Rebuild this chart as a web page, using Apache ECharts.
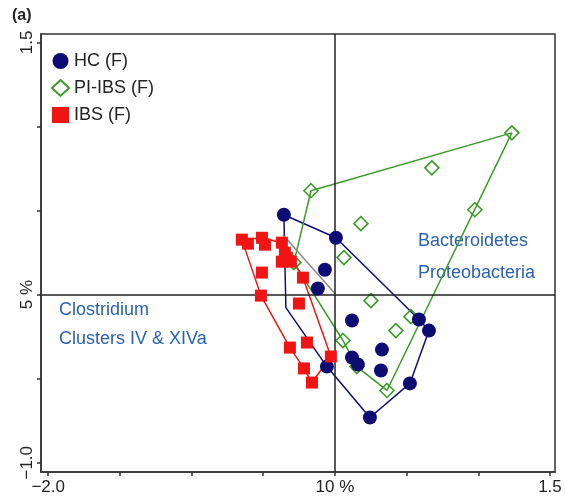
<!DOCTYPE html>
<html>
<head>
<meta charset="utf-8">
<script src="https://cdn.jsdelivr.net/npm/echarts@6/dist/echarts.min.js"></script>
<style>
  html, body { margin: 0; padding: 0; background: #fff; }
  #chart { width: 565px; height: 501px; }
</style>
</head>
<body>
<div id="chart"></div>
<script>
// points, [x, y]
const hcPoints = [
    [-0.356, 0.475], [0.007, 0.338], [-0.070, 0.148], [-0.119, 0.036],
    [0.119, -0.154], [0.586, -0.148], [0.656, -0.214], [0.328, -0.327],
    [0.119, -0.374], [0.160, -0.416], [0.321, -0.451], [0.523, -0.528],
    [0.244, -0.731], [-0.056, -0.428]
];
const piPoints = [
    [1.234, 0.962], [0.676, 0.754], [-0.167, 0.618], [0.976, 0.505],
    [0.181, 0.422], [0.063, 0.220], [0.251, -0.036], [0.530, -0.131],
    [0.425, -0.214], [0.056, -0.273], [0.153, -0.428], [0.363, -0.570],
    [-0.286, 0.190]
];
const ibsPoints = [
    [-0.649, 0.327], [-0.607, 0.303], [-0.509, 0.338], [-0.488, 0.297],
    [-0.370, 0.309], [-0.349, 0.249], [-0.335, 0.220], [-0.370, 0.196],
    [-0.307, 0.196], [-0.509, 0.131], [-0.223, 0.101], [-0.516, -0.006],
    [-0.251, -0.053], [-0.195, -0.285], [-0.314, -0.315], [-0.028, -0.368],
    [-0.216, -0.439], [-0.160, -0.523]
];

// hull outlines
const hcHull = [
    [-0.356, 0.475], [0.007, 0.338], [0.586, -0.148], [0.656, -0.214],
    [0.523, -0.528], [0.244, -0.731], [-0.056, -0.428], [-0.342, -0.077]
];
const piHull = [
    [1.234, 0.962], [0.363, -0.570], [0.153, -0.428], [0.056, -0.273],
    [-0.286, 0.190], [-0.167, 0.618]
];
const ibsHull = [
    [-0.649, 0.327], [-0.509, 0.338], [-0.370, 0.309], [-0.223, 0.101],
    [-0.028, -0.368], [-0.160, -0.523], [-0.216, -0.439], [-0.314, -0.315],
    [-0.516, -0.006]
];
const grayLine = [[-0.363, 0.356], [0.0, 0.006]];

const xTicks = [-2.0, -1.5, -1.0, -0.5, 0, 0.5, 1.0, 1.5];
const xLabels = { "-2": "\u22122.0", "0": "10 %", "1.5": "1.5" };
const yTicks = [-1.0, -0.5, 0, 0.5, 1.0, 1.5];
const yLabels = { "-1": "\u22121.0", "0": "5 %", "1.5": "1.5" };

const navy = "#0c0c72";
const green = "#3c9a28";
const red = "#f01414";
const blueText = "#2a62ae";
const fontName = "Liberation Sans, Arial, sans-serif";

const closed = pts => pts.concat([pts[0]]);

const chart = echarts.init(document.getElementById("chart"));

const hullSeries = (name, pts, color) => ({
    name: name,
    type: "line",
    data: pts,
    symbol: "none",
    lineStyle: { color: color, width: 1.5 },
    z: 2,
    silent: true
});

const option = {
    animation: false,
    textStyle: { fontFamily: fontName },
    grid: {
        left: 41, right: 10, top: 34, bottom: 29,
        show: true, borderColor: "#333", borderWidth: 1.5
    },
    legend: {
        data: ["HC (F)", "PI-IBS (F)", "IBS (F)"],
        orient: "vertical",
        left: 46, top: 47,
        itemWidth: 17, itemHeight: 16, itemGap: 9,
        textStyle: { fontSize: 18, color: "#222" }
    },
    xAxis: {
        type: "value",
        min: -2.05, max: 1.535,
        splitLine: { show: false },
        axisLine: { onZero: false, lineStyle: { color: "#333", width: 1.5 } },
        axisTick: { customValues: xTicks, length: 4, lineStyle: { color: "#333", width: 1.5 } },
        axisLabel: {
            customValues: [-2, 0, 1.5],
            formatter: v => xLabels[String(v)] || "",
            fontSize: 17, color: "#222", margin: 7
        }
    },
    yAxis: {
        type: "value",
        min: -1.055, max: 1.55,
        splitLine: { show: false },
        axisLine: { onZero: false, lineStyle: { color: "#333", width: 1.5 } },
        axisTick: { customValues: yTicks, length: 4, lineStyle: { color: "#333", width: 1.5 } },
        axisLabel: {
            customValues: [-1, 0, 1.5],
            formatter: v => yLabels[String(v)] || "",
            rotate: 90,
            fontSize: 17, color: "#222", margin: 5
        }
    },
    graphic: [
        { type: "text", left: 12, top: 8, style: { text: "(a)", font: "bold 16px " + fontName, fill: "#222" } },
        { type: "text", left: 418, top: 232, style: { text: "Bacteroidetes", font: "18px " + fontName, fill: blueText } },
        { type: "text", left: 418, top: 264, style: { text: "Proteobacteria", font: "18px " + fontName, fill: blueText } },
        { type: "text", left: 59, top: 301, style: { text: "Clostridium", font: "18px " + fontName, fill: blueText } },
        { type: "text", left: 59, top: 330, style: { text: "Clusters IV & XIVa", font: "18px " + fontName, fill: blueText } }
    ],
    series: [
        hullSeries("hc-hull", closed(hcHull), navy),
        hullSeries("pi-hull", closed(piHull), green),
        hullSeries("ibs-hull", closed(ibsHull), red),
        hullSeries("gray", grayLine, "#888"),
        {
            name: "zero",
            type: "line",
            data: [],
            markLine: {
                silent: true,
                symbol: "none",
                label: { show: false },
                lineStyle: { color: "#222", width: 1.5, type: "solid" },
                data: [{ xAxis: 0 }, { yAxis: 0 }]
            },
            z: 1
        },
        {
            name: "HC (F)",
            type: "scatter",
            data: hcPoints,
            symbol: "circle",
            symbolSize: 14,
            itemStyle: { color: navy, opacity: 1 },
            z: 5
        },
        {
            name: "PI-IBS (F)",
            type: "scatter",
            data: piPoints,
            symbol: "diamond",
            symbolSize: 14,
            itemStyle: { color: "rgba(255,255,255,0)", borderColor: green, borderWidth: 1.6, opacity: 1 },
            z: 4
        },
        {
            name: "IBS (F)",
            type: "scatter",
            data: ibsPoints,
            symbol: "rect",
            symbolSize: 12,
            itemStyle: { color: red, opacity: 1 },
            z: 6
        }
    ]
};

chart.setOption(option);
</script>
</body>
</html>
